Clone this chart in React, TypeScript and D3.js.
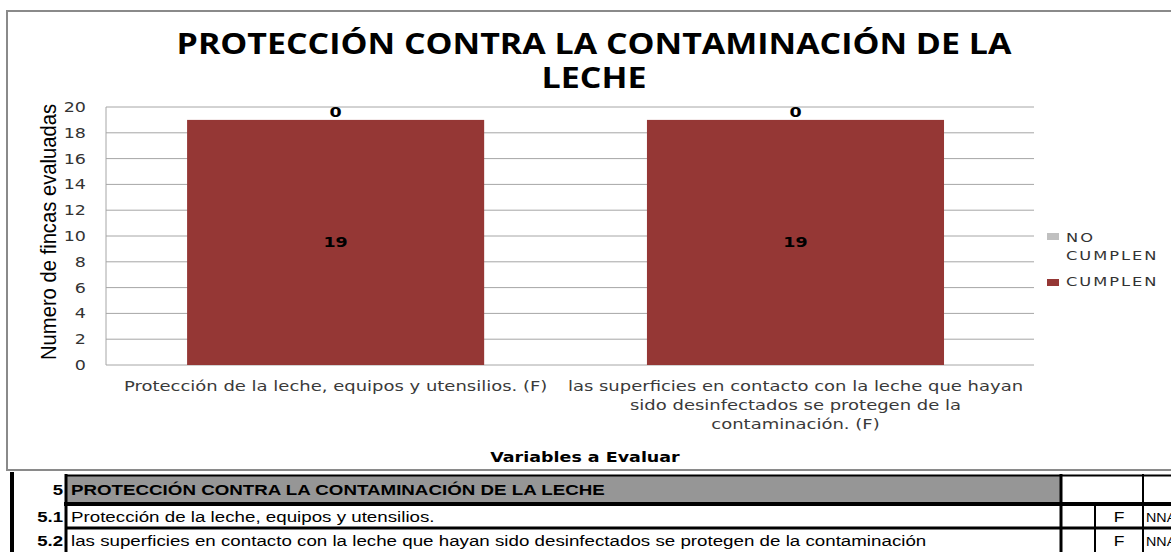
import * as d3 from "d3";

const categories = [
  "Protección de la leche, equipos y utensilios. (F)",
  "las superficies en contacto con la leche que hayan sido desinfectados se protegen de la contaminación. (F)",
];
// wrapped lines of the category labels, as shown on the axis
const categoryLines = [
  ["Protección de la leche, equipos y utensilios. (F)"],
  ["las superficies en contacto con la leche que hayan", "sido desinfectados se protegen de la", "contaminación. (F)"],
];
const cumplen = [19, 19];
const noCumplen = [0, 0];
const yTicks = [0, 2, 4, 6, 8, 10, 12, 14, 16, 18, 20];

const tableCodes = ["5", "5.1", "5.2"];
const tableTexts = [
  "PROTECCIÓN CONTRA LA CONTAMINACIÓN DE LA LECHE",
  "Protección de la leche, equipos y utensilios.",
  "las superficies en contacto con la leche que hayan sido desinfectados se protegen de la contaminación",
];
const tableType = ["", "F", "F"];
const tableLevel = ["", "NNA", "NNA"];

const W = 1171;
const H = 552;
const plot = { left: 106, right: 1034, top: 107, bottom: 365 };
const RED = "#953735";
const GRAY = "#c0c0c0";
const chartFont = "'DejaVu Sans', Verdana, sans-serif";
const tableFont = "'Liberation Sans', Arial, sans-serif";
const SX = 1.25; // the picture is stretched horizontally

// text helper: horizontally stretched text anchored at (x, y)
function T(props: { x: number; y: number; sx?: number; children: any; [k: string]: any }) {
  const { x, y, sx = SX, children, ...rest } = props;
  return (
    <text transform={`translate(${x},${y}) scale(${sx},1)`} {...rest}>
      {children}
    </text>
  );
}

export default function App() {
  const x = d3
    .scaleBand<number>()
    .domain(categories.map((_, i) => i))
    .range([plot.left, plot.right])
    .paddingInner(0.354)
    .paddingOuter(0.186)
    .align(0.474);
  const y = d3.scaleLinear().domain([0, 20]).range([plot.bottom, plot.top]);

  const rowTop = [476, 504, 529];
  const rowBase = [495, 522, 546];

  return (
    <svg width={W} height={H} style={{ position: "absolute", left: 0, top: 0, background: "#fff" }}>
      {/* chart frame */}
      <rect x={7} y={11} width={W} height={459} fill="#fff" stroke="#8a8a8a" strokeWidth={2} />

      {/* title */}
      <T x={594} y={54} sx={1.2} textAnchor="middle" fontFamily="'Open Sans', sans-serif" fontWeight="bold" fontSize={28.3} fill="#000">
        PROTECCIÓN CONTRA LA CONTAMINACIÓN DE LA
      </T>
      <T x={594} y={88} sx={1.2} textAnchor="middle" fontFamily="'Open Sans', sans-serif" fontWeight="bold" fontSize={28.3} fill="#000">
        LECHE
      </T>

      {/* gridlines */}
      {yTicks.map((t) => (
        <line key={t} x1={plot.left} x2={plot.right} y1={y(t)} y2={y(t)} stroke="#a6a6a6" strokeWidth={1} />
      ))}
      <line x1={plot.left} x2={plot.left} y1={plot.top} y2={plot.bottom} stroke="#a6a6a6" />

      {/* y tick labels */}
      {yTicks.map((t) => (
        <T key={t} x={86} y={y(t) + 5} textAnchor="end" fontFamily={chartFont} fontSize={14} fill="#333">
          {t}
        </T>
      ))}
      <text
        transform={`translate(56, ${(plot.top + plot.bottom) / 2 - 4}) rotate(-90)`}
        textAnchor="middle"
        fontFamily="'Liberation Sans Narrow', 'Arial Narrow', sans-serif"
        fontSize={22}
        textLength={256}
        lengthAdjust="spacingAndGlyphs"
        fill="#000"
      >
        Numero de fincas evaluadas
      </text>

      {/* bars */}
      {categories.map((_, i) => {
        const x0 = x(i)!;
        const bw = x.bandwidth();
        const cx = x0 + bw / 2;
        return (
          <g key={i}>
            <rect x={x0} y={y(cumplen[i])} width={bw} height={y(0) - y(cumplen[i])} fill={RED} />
            <rect x={x0} y={y(cumplen[i] + noCumplen[i])} width={bw} height={y(cumplen[i]) - y(cumplen[i] + noCumplen[i])} fill={GRAY} />
            <T x={cx} y={y(cumplen[i] / 2) + 5} textAnchor="middle" fontFamily={chartFont} fontWeight="bold" fontSize={14} fill="#000">
              {cumplen[i]}
            </T>
            <T x={cx} y={y(cumplen[i] + noCumplen[i]) - 3} textAnchor="middle" fontFamily={chartFont} fontWeight="bold" fontSize={14} fill="#000">
              {noCumplen[i]}
            </T>
            {categoryLines[i].map((line, j) => (
              <T key={j} x={cx} y={391 + j * 19} textAnchor="middle" fontFamily={chartFont} fontSize={14.4} fill="#3a3a3a">
                {line}
              </T>
            ))}
          </g>
        );
      })}

      {/* x axis title */}
      <T x={585} y={462} textAnchor="middle" fontFamily={chartFont} fontWeight="bold" fontSize={14} fill="#000">
        Variables a Evaluar
      </T>

      {/* legend */}
      <rect x={1047} y={233} width={12} height={7} fill={GRAY} />
      <T x={1066} y={242} fontFamily={chartFont} fontSize={13} letterSpacing={1.6} fill="#333">NO</T>
      <T x={1066} y={260} fontFamily={chartFont} fontSize={13} letterSpacing={1.6} fill="#333">CUMPLEN</T>
      <rect x={1047} y={279} width={12} height={7} fill={RED} />
      <T x={1066} y={286} fontFamily={chartFont} fontSize={13} letterSpacing={1.6} fill="#333">CUMPLEN</T>

      {/* spreadsheet rows below the chart */}
      <line x1={12} x2={12} y1={472} y2={H} stroke="#000" strokeWidth={4} />
      <rect x={66} y={rowTop[0]} width={994} height={rowTop[1] - rowTop[0]} fill="#969696" />
      {/* horizontal borders */}
      <line x1={66} x2={W} y1={475.5} y2={475.5} stroke="#000" strokeWidth={2} />
      <line x1={64} x2={W} y1={rowTop[1]} y2={rowTop[1]} stroke="#000" strokeWidth={4} />
      <line x1={66} x2={W} y1={rowTop[2] - 1} y2={rowTop[2] - 1} stroke="#000" strokeWidth={3} />
      {/* vertical borders */}
      <line x1={66} x2={66} y1={474} y2={H} stroke="#000" strokeWidth={3} />
      <line x1={1061} x2={1061} y1={474} y2={H} stroke="#000" strokeWidth={3} />
      <line x1={1095} x2={1095} y1={rowTop[1]} y2={H} stroke="#000" strokeWidth={2} />
      <line x1={1143} x2={1143} y1={474} y2={H} stroke="#000" strokeWidth={2} />

      {tableCodes.map((code, i) => (
        <g key={code}>
          <T x={63} y={rowBase[i]} sx={1.2} textAnchor="end" fontFamily={tableFont} fontWeight="bold" fontSize={15.5} fill="#000">
            {code}
          </T>
          <T x={71} y={rowBase[i]} fontFamily={tableFont} fontWeight={i === 0 ? "bold" : "normal"} fontSize={15} fill="#000">
            {tableTexts[i]}
          </T>
          <T x={1119} y={rowBase[i]} textAnchor="middle" fontFamily={tableFont} fontSize={14} fill="#000">
            {tableType[i]}
          </T>
          <T x={1146} y={rowBase[i]} sx={1.1} fontFamily={tableFont} fontSize={13} fill="#000">
            {tableLevel[i]}
          </T>
        </g>
      ))}
    </svg>
  );
}
